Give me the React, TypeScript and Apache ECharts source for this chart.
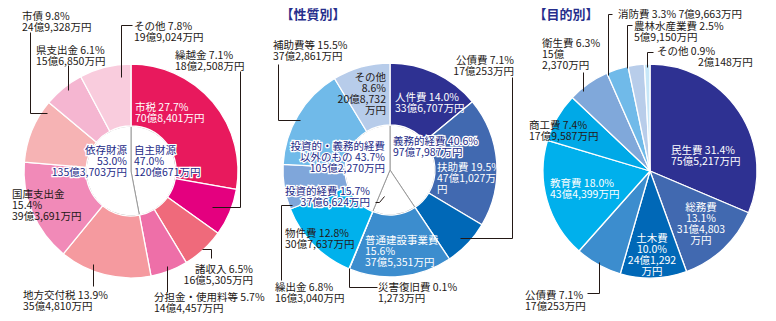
import React, { useEffect, useRef } from "react";
import * as echarts from "echarts";

// ---------------- DATA (amounts in 万円, shares in %) ----------------
const revenueNames = ["市税", "繰越金", "諸収入", "分担金・使用料等", "地方交付税", "国庫支出金", "市債", "県支出金", "その他"];
const revenueValues = [708401, 182508, 165305, 144457, 354810, 393691, 249328, 156850, 199024];
const revenuePct = [27.7, 7.1, 6.5, 5.7, 13.9, 15.4, 9.8, 6.1, 7.8];
const revenueGroupNames = ["自主財源", "依存財源"];
const revenueGroupSize = [4, 5];

const natureNames = ["人件費", "扶助費", "公債費", "普通建設事業費", "災害復旧費", "物件費", "繰出金", "補助費等", "その他"];
const natureValues = [336707, 471027, 170253, 375351, 1273, 307637, 163040, 372861, 208732];
const naturePct = [14.0, 19.5, 7.1, 15.6, 0.1, 12.8, 6.8, 15.5, 8.6];
const natureGroupNames = ["義務的経費", "投資的経費", "投資的・義務的経費\n以外のもの"];
const natureGroupSize = [3, 2, 4];

const purposeNames = ["民生費", "総務費", "土木費", "公債費", "教育費", "商工費", "衛生費", "消防費", "農林水産業費", "その他"];
const purposeValues = [755217, 314803, 241292, 170253, 434399, 179587, 152370, 79663, 59150, 20148];
const purposePct = [31.4, 13.1, 10.0, 7.1, 18.0, 7.4, 6.3, 3.3, 2.5, 0.9];

const titles = ["【性質別】", "【目的別】"];

// ---------------- STYLE / LAYOUT ----------------
const FONT = '"Noto Sans CJK JP", "Noto Sans CJK SC", sans-serif';
const W = "#ffffff";
const D = "#231815";
const N = "#232A87";
const DEF = "{n} {p}\n{o}{m}万円";
const STACK = "{n}\n{p}\n{o}{m}万円";
const STACK4 = "{n}\n{p}\n{o}{m}\n万円";

const revenueColors = ["#E8195D", "#E4007F", "#EF6A7B", "#EE6FA8", "#F59A9F", "#F18AB8", "#F6B3B4", "#F5B6D1", "#F9CCDD"];
const natureColors = ["#2E3192", "#4169B0", "#0068B7", "#3C8DCE", "#2A8FD2", "#00B1EC", "#7FA6DA", "#70BAE9", "#B7CCEA"];
const purposeColors = ["#2E3192", "#4169B0", "#0068B7", "#3C8DCE", "#00B0EC", "#00A9E7", "#80A8DA", "#70BAE9", "#B8CDEA", "#C7E7F8"];

type L = { x: number; y: number; a: "left" | "right" | "center"; t: string; c: string };

const revenueLayout: L[] = [
  { x: 135, y: 112, a: "left", t: DEF, c: W },
  { x: 175, y: 60, a: "left", t: DEF, c: D },
  { x: 253, y: 273.5, a: "right", t: DEF, c: D },
  { x: 154, y: 302, a: "left", t: DEF, c: D },
  { x: 23, y: 300, a: "left", t: DEF, c: D },
  { x: 12, y: 204, a: "left", t: STACK, c: D },
  { x: 22, y: 21, a: "left", t: DEF, c: D },
  { x: 36, y: 54.5, a: "left", t: DEF, c: D },
  { x: 134, y: 31, a: "left", t: DEF, c: D },
];
const revenueGroupLayout: L[] = [
  { x: 134, y: 160, a: "left", t: STACK, c: N },
  { x: 127, y: 160, a: "right", t: STACK, c: N },
];
const natureLayout: L[] = [
  { x: 395, y: 102, a: "left", t: DEF, c: W },
  { x: 437, y: 177.5, a: "left", t: "{n} {p}\n{o}{m}万\n円", c: W },
  { x: 514, y: 64.5, a: "right", t: DEF, c: D },
  { x: 365, y: 250, a: "left", t: STACK, c: W },
  { x: 378, y: 292, a: "left", t: DEF, c: D },
  { x: 285, y: 238, a: "left", t: DEF, c: D },
  { x: 275, y: 292, a: "left", t: DEF, c: D },
  { x: 273, y: 49.5, a: "left", t: DEF, c: D },
  { x: 386, y: 93, a: "right", t: STACK4, c: D },
];
const natureGroupLayout: L[] = [
  { x: 393, y: 146, a: "left", t: DEF, c: N },
  { x: 370, y: 196, a: "right", t: DEF, c: N },
  { x: 385, y: 156.5, a: "right", t: DEF, c: N },
];
const purposeLayout: L[] = [
  { x: 671, y: 154.5, a: "left", t: DEF, c: W },
  { x: 701, y: 223, a: "center", t: STACK4, c: W },
  { x: 652, y: 254, a: "center", t: STACK4, c: W },
  { x: 525, y: 299.5, a: "left", t: DEF, c: D },
  { x: 550, y: 188, a: "left", t: DEF, c: W },
  { x: 529, y: 129.5, a: "left", t: DEF, c: D },
  { x: 542, y: 53, a: "left", t: "{n} {p}\n{o}\n{m}万円", c: D },
  { x: 618, y: 13.5, a: "left", t: "{n} {p} {o}{m}万円", c: D },
  { x: 634, y: 31, a: "left", t: DEF, c: D },
  { x: 657, y: 56, a: "left", t: "{a|{n} {p}}\n{b|{o}{m}万円}", c: D },
];

const leaderLines: number[][][] = [
  [[212, 207], [240, 207], [240, 71]],
  [[202, 249], [211, 249], [211, 258]],
  [[167, 266], [167, 292]],
  [[93, 264], [93, 286]],
  [[47, 113], [30, 113], [30, 32]],
  [[68, 65], [68, 90]],
  [[121, 77], [121, 25], [132, 25]],
  [[460, 238], [512, 238], [512, 77]],
  [[349, 268], [349, 287], [377, 287]],
  [[292, 205], [281, 205], [281, 280]],
  [[300, 120], [278, 120], [278, 64]],
  [[375, 202], [379, 202], [384, 196]],
  [[599, 262], [599, 293], [587, 293]],
  [[583, 72], [583, 91]],
  [[612, 14], [608, 14], [608, 75]],
  [[632, 25], [627, 25], [627, 68]],
  [[653, 52], [647, 52], [647, 67]],
];
const titlePos = [[313, 13], [566, 13]];

const LEFT_C = [131, 171];
const MID_C = [390, 170];
const RIGHT_C = [650, 171];
const R_OUT = 107;
const R_IN = 45;

// ---------------- HELPERS ----------------
function groupSum(vals: number[], sizes: number[], round = false) {
  let k = 0;
  return sizes.map((s) => {
    let sum = 0;
    for (let j = 0; j < s; j++) sum += vals[k++];
    return round ? Math.round(sum * 10) / 10 : sum;
  });
}
function fill(t: string, n: string, p: number, v: number) {
  const o = v >= 10000 ? Math.floor(v / 10000) + "億" : "";
  const m = (v % 10000).toLocaleString("en-US");
  return t.split("{n}").join(n).split("{p}").join(p.toFixed(1) + "%").split("{o}").join(o).split("{m}").join(m);
}

function pie(
  center: number[],
  radius: number[],
  names: string[],
  values: number[],
  pct: number[],
  colors: string[] | null,
  layout: L[],
  itemStyle: any,
  inner: boolean,
  rich?: any
) {
  const texts = names.map((n, i) => fill(layout[i].t, n, pct[i], values[i]));
  return {
    type: "pie",
    center,
    radius,
    startAngle: 90,
    clockwise: true,
    silent: true,
    avoidLabelOverlap: false,
    emphasis: { disabled: true },
    itemStyle,
    label: {
      show: true,
      position: "inside",
      fontSize: 10.5,
      lineHeight: 11,
      fontFamily: FONT,
      textBorderColor: inner ? "#ffffff" : "transparent",
      textBorderWidth: inner ? 2.5 : 0,
      formatter: (p: any) => texts[p.dataIndex],
      rich,
    },
    labelLine: { show: false },
    labelLayout: (p: any) => {
      const l = layout[p.dataIndex];
      return { x: l.x, y: l.y, align: l.a, verticalAlign: "middle" };
    },
    data: names.map((n, i) => ({
      name: n,
      value: values[i],
      itemStyle: colors ? { color: colors[i] } : undefined,
      label: { color: layout[i].c },
    })),
  };
}

export default function App() {
  const ref = useRef<HTMLDivElement>(null);
  useEffect(() => {
    const chart = echarts.init(ref.current!, null, { renderer: "svg" });
    const ringStyle = { borderColor: "#ffffff", borderWidth: 1.3 };
    const holeStyle = { color: "#ffffff", borderColor: "#9A9A9A", borderWidth: 1 };
    const richStyle = {
      a: { fontSize: 10.5, lineHeight: 11, fontFamily: FONT, color: D },
      b: { fontSize: 10.5, lineHeight: 11, fontFamily: FONT, color: D, padding: [0, 0, 0, 41] },
    };
    const option: any = {
      animation: false,
      backgroundColor: "#ffffff",
      textStyle: { fontFamily: FONT },
      series: [
        pie(LEFT_C, [0, R_IN], revenueGroupNames, groupSum(revenueValues, revenueGroupSize),
          groupSum(revenuePct, revenueGroupSize, true), null, revenueGroupLayout, holeStyle, true),
        pie(LEFT_C, [R_IN, R_OUT], revenueNames, revenueValues, revenuePct, revenueColors, revenueLayout, ringStyle, false),
        pie(MID_C, [0, R_IN], natureGroupNames, groupSum(natureValues, natureGroupSize),
          groupSum(naturePct, natureGroupSize, true), null, natureGroupLayout, holeStyle, true),
        pie(MID_C, [R_IN, R_OUT], natureNames, natureValues, naturePct, natureColors, natureLayout, ringStyle, false),
        pie(RIGHT_C, [0, R_OUT], purposeNames, purposeValues, purposePct, purposeColors, purposeLayout, ringStyle, false, richStyle),
      ],
      graphic: {
        elements: [
          ...leaderLines.map((pts) => ({
            type: "polyline",
            silent: true,
            z: 10,
            shape: { points: pts.map(([x, y]) => [x + 0.5, y + 0.5]) },
            style: { stroke: D, lineWidth: 1, fill: null },
          })),
          ...titles.map((t, i) => ({
            type: "text",
            silent: true,
            x: titlePos[i][0],
            y: titlePos[i][1],
            style: {
              text: t,
              fill: "#262E8C",
              fontSize: 13,
              fontWeight: "bold",
              fontFamily: FONT,
              align: "center",
              verticalAlign: "middle",
              textAlign: "center",
              textVerticalAlign: "middle",
            },
          })),
        ],
      },
    };
    chart.setOption(option);
    return () => chart.dispose();
  }, []);
  return (
    <div
      ref={ref}
      style={{ position: "fixed", left: 0, top: 0, width: 776, height: 321, background: "#fff" }}
    />
  );
}
